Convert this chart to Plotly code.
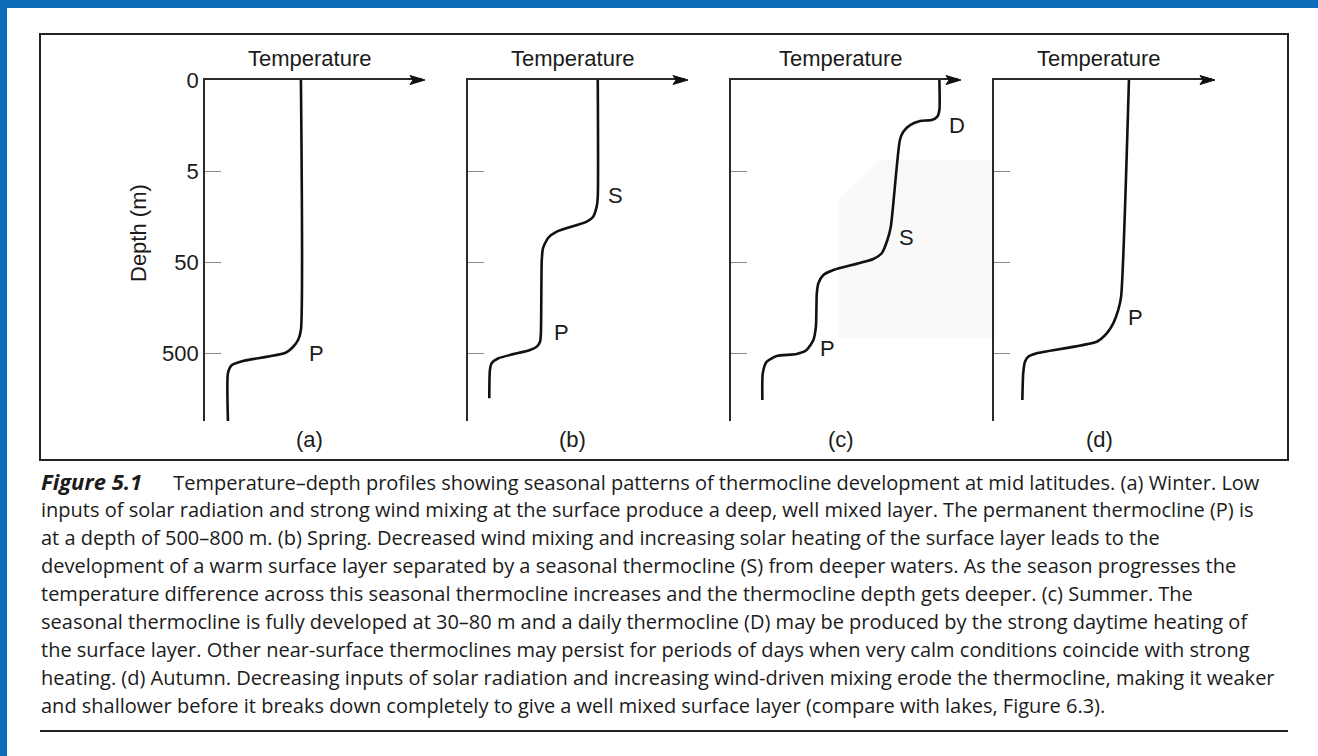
import plotly.graph_objects as go

W, H = 1318, 756

# ---------------- data (temperature in % of axis length, depth as tick position) -------------
depth_ticks = [0, 1, 2, 3]
depth_labels = ["0", "5", "50", "500"]

temp_a = [44.2, 44.2, 42.9, 40.1, 36.9, 17.5, 12.4, 10.6, 10.6]
depth_a = [0.0, 2.747, 2.857, 2.945, 3.0, 3.088, 3.132, 3.22, 3.758]

temp_b = [59.8, 59.8, 59.3, 57.6, 54.7, 40.9, 36.9, 34.6, 34.0, 33.6, 33.2, 31.7, 28.6, 14.0, 10.9, 10.1, 9.8]
depth_b = [0.0, 1.286, 1.392, 1.505, 1.557, 1.667, 1.736, 1.846, 1.978, 2.78, 2.876, 2.93, 2.967, 3.058, 3.113, 3.187, 3.498]

temp_c = [91.8, 91.8, 90.9, 88.4, 83.3, 78.9, 75.9, 74.4, 70.4, 68.9, 66.4, 62.7, 45.1, 40.7, 38.5, 37.8,
          37.4, 36.3, 33.3, 28.9, 20.1, 15.7, 14.0, 13.8]
depth_c = [0.0, 0.33, 0.403, 0.44, 0.45, 0.495, 0.568, 0.659, 1.612, 1.758, 1.904, 1.967, 2.088, 2.143, 2.234, 2.344,
           2.711, 2.857, 2.967, 3.011, 3.033, 3.096, 3.223, 3.516]

temp_d = [61.9, 58.3, 57.0, 54.7, 51.7, 47.1, 19.6, 15.7, 14.2, 13.4, 13.0]
depth_d = [0.0, 2.381, 2.527, 2.674, 2.784, 2.876, 3.003, 3.04, 3.096, 3.223, 3.516]

panel_names = ["(a)", "(b)", "(c)", "(d)"]
curve_labels = [
    [("P", 51.2, 3.0)],
    [("S", 68.2, 1.264), ("P", 42.9, 2.78)],
    [("D", 99.6, 0.495), ("S", 77.5, 1.736), ("P", 42.3, 2.945)],
    [("P", 65.1, 2.615)],
]

caption_lines = [
    "<span style='font-size:22px'><b><i>Figure 5.1</i></b></span>\u00a0\u00a0\u00a0\u00a0\u00a0 Temperature–depth profiles showing seasonal patterns of thermocline development at mid latitudes. (a) Winter. Low",
    "inputs of solar radiation and strong wind mixing at the surface produce a deep, well mixed layer. The permanent thermocline (P) is",
    "at a depth of 500–800 m. (b) Spring. Decreased wind mixing and increasing solar heating of the surface layer leads to the",
    "development of a warm surface layer separated by a seasonal thermocline (S) from deeper waters. As the season progresses the",
    "temperature difference across this seasonal thermocline increases and the thermocline depth gets deeper. (c) Summer. The",
    "seasonal thermocline is fully developed at 30–80 m and a daily thermocline (D) may be produced by the strong daytime heating of",
    "the surface layer. Other near-surface thermoclines may persist for periods of days when very calm conditions coincide with strong",
    "heating. (d) Autumn. Decreasing inputs of solar radiation and increasing wind-driven mixing erode the thermocline, making it weaker",
    "and shallower before it breaks down completely to give a well mixed surface layer (compare with lakes, Figure 6.3).",
]

# ---------------- layout helpers ----------------
def px(x):
    return x / W

def py(y):
    return 1 - y / H

panel_x = [(205, 422), (468, 685), (731, 958), (994, 1212)]
y_top, y_bot = 80, 421
depth_bottom = (y_bot - y_top) / 91.0

INK = "#1b1b1b"
AX = "#2a2a2a"
FONT = "Liberation Sans, Arial, sans-serif"

fig = go.Figure()

temps = [temp_a, temp_b, temp_c, temp_d]
depths = [depth_a, depth_b, depth_c, depth_d]

annotations = []
shapes = []

# faint scan shading
shapes.append(dict(type="path", xref="paper", yref="paper",
                   path="M {} {} L {} {} L {} {} L {} {} L {} {} Z".format(
                       px(838), py(200), px(880), py(160), px(995), py(160), px(995), py(338), px(838), py(338)),
                   fillcolor="#f9f9f9", line=dict(width=0), layer="below"))

for i in range(4):
    n = "" if i == 0 else str(i + 1)
    xa, ya = "x" + n, "y" + n
    fig.add_trace(go.Scatter(x=temps[i], y=depths[i], mode="lines", xaxis=xa, yaxis=ya,
                             line=dict(color="#111111", width=2.6, shape="spline", smoothing=0.6),
                             showlegend=False, hoverinfo="skip"))
    x0, x1 = panel_x[i]
    fig.layout["xaxis" + n] = dict(domain=[px(x0), px(x1)], range=[0, 100], anchor=ya, side="top",
                                   showline=True, linecolor=AX, linewidth=1.6, showgrid=False,
                                   zeroline=False, showticklabels=False, ticks="", fixedrange=True,
                                   automargin=False)
    fig.layout["yaxis" + n] = dict(domain=[py(y_bot), py(y_top)], range=[depth_bottom, 0], anchor=xa,
                                   showline=True, linecolor=AX, linewidth=1.6, showgrid=False,
                                   zeroline=False, tickmode="array", tickvals=depth_ticks,
                                   ticktext=depth_labels, ticks="inside", ticklen=16, tickwidth=1,
                                   tickcolor="#8a8a8a", showticklabels=(i == 0), automargin=False,
                                   tickfont=dict(family=FONT, size=22, color=INK), fixedrange=True)
    # arrow head at the end of the temperature axis (paper-anchored so it is not clipped)
    shapes.append(dict(type="path", xref="paper", yref="paper", xsizemode="pixel", ysizemode="pixel",
                       xanchor=px(x1), yanchor=py(y_top), path="M3,0 L-12,4.5 L-9,0 L-12,-4.5 Z",
                       fillcolor="#111111", line=dict(color="#111111", width=1)))
    cx = (x0 + x1) / 2 - 4
    annotations.append(dict(text="Temperature", xref="paper", yref="paper", x=px(cx), y=py(58),
                            showarrow=False, xanchor="center", yanchor="middle",
                            font=dict(family=FONT, size=22, color=INK)))
    annotations.append(dict(text=panel_names[i], xref="paper", yref="paper", x=px(cx), y=py(439),
                            showarrow=False, xanchor="center", yanchor="middle",
                            font=dict(family=FONT, size=22, color=INK)))
    for (lab, tx, dy) in curve_labels[i]:
        annotations.append(dict(text=lab, xref=xa, yref=ya, x=tx, y=dy, showarrow=False,
                                xanchor="center", yanchor="middle",
                                font=dict(family=FONT, size=22, color=INK)))

annotations.append(dict(text="Depth (m)", xref="paper", yref="paper", x=px(139), y=py(233),
                        textangle=-90, showarrow=False, xanchor="center", yanchor="middle",
                        font=dict(family=FONT, size=22, color=INK)))

# caption
for k, line in enumerate(caption_lines):
    annotations.append(dict(text=line, xref="paper", yref="paper", x=px(39), y=py(481 + 28.0 * k),
                            showarrow=False, xanchor="left", yanchor="middle",
                            font=dict(family="Open Sans, sans-serif", size=20, color=INK)))

# frame, rule, blue page border
shapes.append(dict(type="rect", xref="paper", yref="paper", x0=px(40), x1=px(1288), y0=py(460), y1=py(34),
                   line=dict(color="#222222", width=2), fillcolor="rgba(0,0,0,0)"))
shapes.append(dict(type="line", xref="paper", yref="paper", x0=px(40), x1=px(1288), y0=py(731), y1=py(731),
                   line=dict(color="#222222", width=2)))
shapes.append(dict(type="rect", xref="paper", yref="paper", x0=0, x1=px(7), y0=0, y1=1,
                   fillcolor="#0b6cb9", line=dict(width=0)))
shapes.append(dict(type="rect", xref="paper", yref="paper", x0=0, x1=1, y0=py(8), y1=1,
                   fillcolor="#0b6cb9", line=dict(width=0)))

fig.update_layout(width=W, height=H, margin=dict(l=0, r=0, t=0, b=0, autoexpand=False),
                  paper_bgcolor="white", plot_bgcolor="rgba(0,0,0,0)", annotations=annotations,
                  shapes=shapes, showlegend=False)

fig.write_html("out.html", config={"displayModeBar": False})
